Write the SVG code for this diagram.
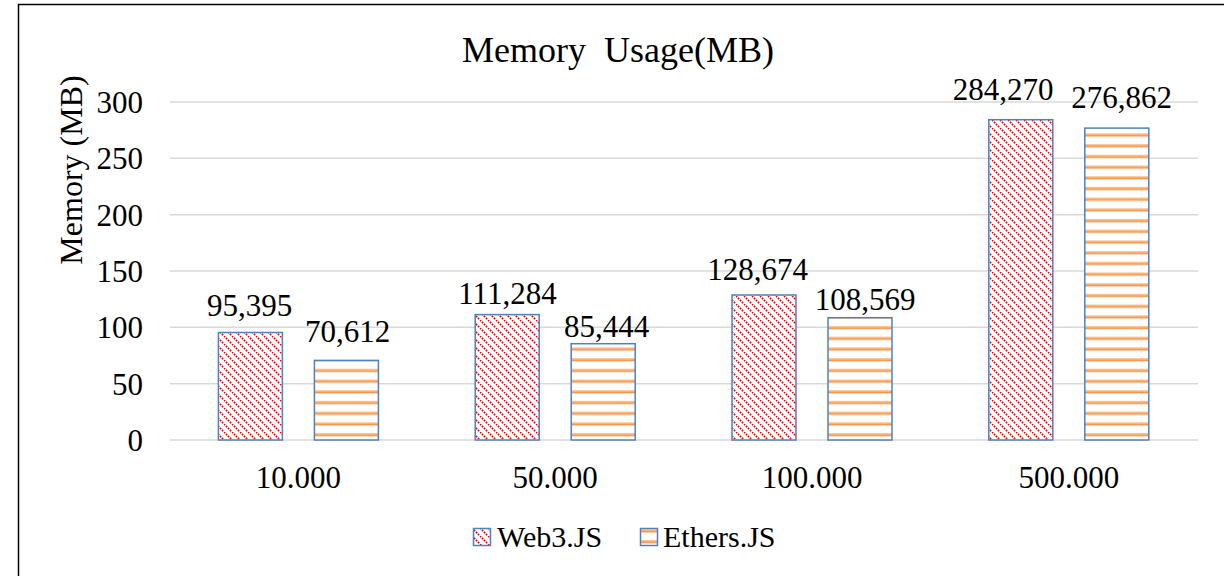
<svg xmlns="http://www.w3.org/2000/svg" width="1224" height="576" viewBox="0 0 1224 576">
<style>
text{font-family:"Liberation Serif","Times New Roman",serif;fill:#000}
.t{font-size:36px;text-anchor:middle}
.a{font-size:32px}
.l{font-size:30px}
.v{font-size:31px;text-anchor:middle}
.y{font-size:31px;text-anchor:end}
.g{stroke:#D9D9D9;stroke-width:1.5}
.w{fill:url(#pw);stroke:#4F81BD;stroke-width:1.5}
.e{fill:url(#pe);stroke:#4F81BD;stroke-width:1.5}
</style>
<defs>
<pattern id="pw" width="8" height="8" patternUnits="userSpaceOnUse">
<rect width="8" height="8" fill="#fff"/>
<path d="M0,0 L8,8 M-4,4 L0,8 M4,-4 L8,0" stroke="#FF0000" stroke-width="1.8" stroke-dasharray="1.6,1.2"/>
</pattern>
<pattern id="pe" width="10.7" height="10.7" patternUnits="userSpaceOnUse" y="1">
<rect width="10.7" height="10.7" fill="#fff"/>
<rect y="4" width="10.7" height="1.2" fill="#FAC090"/>
<rect y="5.2" width="10.7" height="2" fill="#F79646"/>
</pattern>
</defs>
<rect x="0" y="0" width="1224" height="576" fill="#fff"/>
<rect x="18.5" y="4.5" width="1220" height="590" fill="none" stroke="#000" stroke-width="1.5"/>
<text class="t" x="618" y="62" xml:space="preserve">Memory  Usage(MB)</text>
<text class="a" transform="translate(82,170) rotate(-90)" text-anchor="middle">Memory (MB)</text>
<g id="grid">
<line class="g" x1="170" y1="440" x2="1198" y2="440"/>
<line class="g" x1="170" y1="383.7" x2="1198" y2="383.7"/>
<line class="g" x1="170" y1="327.3" x2="1198" y2="327.3"/>
<line class="g" x1="170" y1="271" x2="1198" y2="271"/>
<line class="g" x1="170" y1="214.7" x2="1198" y2="214.7"/>
<line class="g" x1="170" y1="158.3" x2="1198" y2="158.3"/>
<line class="g" x1="170" y1="102" x2="1198" y2="102"/>
</g>
<g id="yaxis">
<text class="y" x="143" y="451">0</text>
<text class="y" x="143" y="395">50</text>
<text class="y" x="143" y="338">100</text>
<text class="y" x="143" y="282">150</text>
<text class="y" x="143" y="226">200</text>
<text class="y" x="143" y="169">250</text>
<text class="y" x="143" y="113">300</text>
</g>
<g id="bars">
<rect class="w" x="218.4" y="332.5" width="64" height="107.5"/>
<rect class="e" x="314.4" y="360.4" width="64" height="79.6"/>
<rect class="w" x="475.2" y="314.6" width="64" height="125.4"/>
<rect class="e" x="571.2" y="343.7" width="64" height="96.3"/>
<rect class="w" x="732" y="295" width="64" height="145"/>
<rect class="e" x="828" y="317.7" width="64" height="122.3"/>
<rect class="w" x="988.8" y="119.7" width="64" height="320.3"/>
<rect class="e" x="1084.8" y="128.1" width="64" height="311.9"/>
</g>
<g id="labels">
<text class="v" x="249.5" y="316">95,395</text>
<text class="v" x="347.5" y="342">70,612</text>
<text class="v" x="507.5" y="304">111,284</text>
<text class="v" x="606.5" y="337">85,444</text>
<text class="v" x="757.5" y="280">128,674</text>
<text class="v" x="865" y="310">108,569</text>
<text class="v" x="1003" y="100">284,270</text>
<text class="v" x="1121.5" y="108">276,862</text>
</g>
<g id="xaxis">
<text class="v" x="298.4" y="488">10.000</text>
<text class="v" x="555.2" y="488">50.000</text>
<text class="v" x="812" y="488">100.000</text>
<text class="v" x="1068.8" y="488">500.000</text>
</g>
<g id="legend">
<rect class="w" x="473.5" y="528.5" width="17" height="17"/>
<text class="l" x="497" y="547">Web3.JS</text>
<rect class="e" x="640.5" y="528.5" width="17" height="17"/>
<text class="l" x="663" y="547">Ethers.JS</text>
</g>
</svg>
